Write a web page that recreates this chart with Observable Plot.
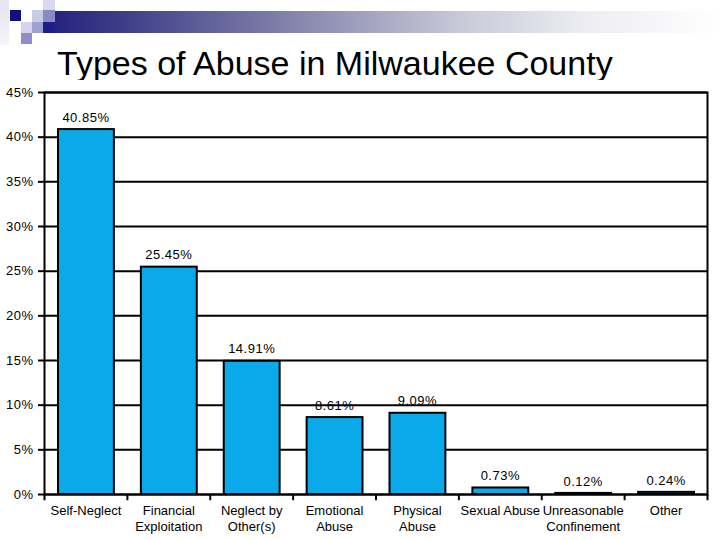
<!DOCTYPE html>
<html>
<head>
<meta charset="utf-8">
<script src="https://cdn.jsdelivr.net/npm/d3@7"></script>
<script src="https://cdn.jsdelivr.net/npm/@observablehq/plot@0.6"></script>
<style>
  html, body { margin: 0; padding: 0; background: #fff; }
  body { width: 720px; height: 540px; position: relative; overflow: hidden; font-family: "Liberation Sans", Arial, sans-serif; }
  .deco { position: absolute; }
  #title { position: absolute; left: 57px; top: 43px; font-size: 34px; color: #000; white-space: nowrap; line-height: 40px; }
  #chart { position: absolute; left: 0; top: 80px; }
  #chart svg text { letter-spacing: 0.5px; }
  #chart svg g[aria-label="x-axis tick label"] text { letter-spacing: 0px; }
</style>
</head>
<body>
<div class="deco" style="left:32px;top:11px;width:688px;height:22px;background:linear-gradient(to right,#1c1c7e 0%,#3a3a86 12%,#8a8ab0 40%,#c8c8d8 62%,#ececf2 80%,#ffffff 100%);"></div>
<div class="deco" style="left:0px;top:0px;width:9px;height:45px;background:linear-gradient(to bottom,#e4e4f2,#f4f4fa);"></div>
<div class="deco" style="left:10px;top:10px;width:11px;height:11px;background:#10107c;"></div>
<div class="deco" style="left:21px;top:22px;width:11px;height:11px;background:#d4d4ec;"></div>
<div class="deco" style="left:21px;top:33px;width:11px;height:11px;background:#8e8ec6;"></div>
<div class="deco" style="left:32px;top:10px;width:11px;height:12px;background:#cacae6;"></div>
<div class="deco" style="left:32px;top:22px;width:11px;height:11px;background:#a0a0d0;"></div>
<div class="deco" style="left:43px;top:0px;width:12px;height:10px;background:#d8d8ee;"></div>
<div class="deco" style="left:43px;top:10px;width:12px;height:12px;background:#8a8ac2;"></div>
<div class="deco" style="left:43px;top:22px;width:12px;height:11px;background:#1e1e88;"></div>
<div id="title">Types of Abuse in Milwaukee County</div>
<div id="chart"></div>
<script>
const categories = ["Self-Neglect", "Financial\nExploitation", "Neglect by\nOther(s)", "Emotional\nAbuse", "Physical\nAbuse", "Sexual Abuse", "Unreasonable\nConfinement", "Other"];
const shares = [40.85, 25.45, 14.91, 8.61, 9.09, 0.73, 0.12, 0.24];
const yTicks = [0, 5, 10, 15, 20, 25, 30, 35, 40, 45];

const data = categories.map((c, i) => ({category: c, share: shares[i]}));

const width = 720, height = 460;
const mLeft = 44, mRight = 13, mTop = 12, mBottom = 46;
const bw = (width - mLeft - mRight) / categories.length;

const chart = Plot.plot({
  width, height,
  marginLeft: mLeft, marginRight: mRight, marginTop: mTop, marginBottom: mBottom,
  style: {fontFamily: "'Liberation Sans', Arial, sans-serif", fontSize: "13px", color: "#000", background: "#fff"},
  x: {type: "band", domain: categories, padding: 0, round: false},
  y: {domain: [0, 45]},
  marks: [
    Plot.gridY(yTicks, {stroke: "#000", strokeOpacity: 1, strokeWidth: 2}),
    Plot.barY(data, {x: "category", y: "share", fill: "#0AA9E9", stroke: "#000", strokeWidth: 2, insetLeft: 14, insetRight: 13}),
    Plot.text(data, {x: "category", y: "share", text: d => d.share.toFixed(2) + "%", dy: -12, fontSize: 13, fill: "#000"}),
    Plot.frame({stroke: "#000", strokeWidth: 2}),
    Plot.ruleX(categories, {x: d => d, dx: -bw / 2, y1: 0, y2: -0.7, stroke: "#000", strokeWidth: 2}),
    Plot.ruleX(categories.slice(-1), {x: d => d, dx: bw / 2, y1: 0, y2: -0.7, stroke: "#000", strokeWidth: 2}),
    Plot.axisY(yTicks, {tickFormat: d => d + "%", tickSize: 6, tickPadding: 5, strokeWidth: 2, fontSize: 13, label: null}),
    Plot.axisX({tickSize: 0, tickPadding: 9, fontSize: 13, lineHeight: 1.25, label: null})
  ]
});
document.getElementById("chart").appendChild(chart);
</script>
</body>
</html>
